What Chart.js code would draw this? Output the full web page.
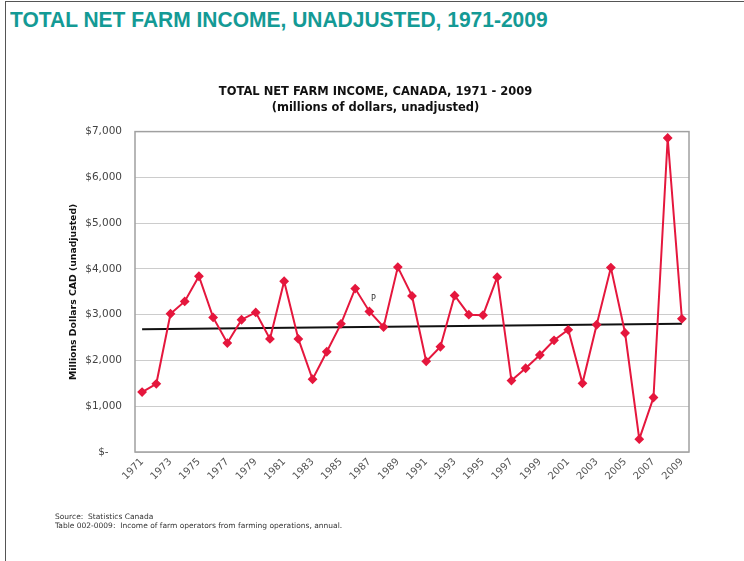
<!DOCTYPE html>
<html lang="en">
<head>
<meta charset="UTF-8">
<title>Total net farm income, unadjusted, 1971-2009</title>
<script src="https://cdn.jsdelivr.net/npm/chart.js"></script>
<style>
  body { margin: 0; background: #fff; }
  #page { position: relative; width: 744px; height: 561px; overflow: hidden; }
  #frame { position: absolute; left: 5px; top: 1px; width: 800px; height: 600px;
           border-left: 1.5px solid #555; border-top: 1.5px solid #555; }
  #heading { position: absolute; left: 10px; top: 7px; margin: 0; white-space: nowrap;
             font: bold 22px "Liberation Sans", Arial, sans-serif; color: #149a95;
             transform-origin: 0 0; }
  #chart { position: absolute; left: 0; top: 0; }
  .src { position: absolute; left: 55px; font: 7.5px "DejaVu Sans", Verdana, sans-serif; color: #333; white-space: nowrap; }
</style>
</head>
<body>
<div id="page">
  <div id="frame"></div>
  <h1 id="heading">TOTAL NET FARM INCOME, UNADJUSTED, 1971-2009</h1>
  <canvas id="chart" width="744" height="561"></canvas>
  <div class="src" style="top:512px">Source:&nbsp; Statistics Canada</div>
  <div class="src" style="top:521px">Table 002-0009:&nbsp; Income of farm operators from farming operations, annual.</div>
</div>
<script>
// years on the x axis
const years = ['1971','1972','1973','1974','1975','1976','1977','1978','1979','1980',
               '1981','1982','1983','1984','1985','1986','1987','1988','1989','1990',
               '1991','1992','1993','1994','1995','1996','1997','1998','1999','2000',
               '2001','2002','2003','2004','2005','2006','2007','2008','2009'];

// total net farm income, millions of dollars
const income = [1310, 1490, 3020, 3290, 3840, 2940, 2380, 2890, 3050, 2470,
                3730, 2470, 1590, 2190, 2800, 3570, 3070, 2730, 4040, 3410,
                1980, 2300, 3420, 3000, 2990, 3820, 1560, 1830, 2120, 2440,
                2670, 1500, 2780, 4030, 2600, 280, 1190, 6860, 2910];

// trend line, first and last year only
const trend = [2680, null, null, null, null, null, null, null, null, null,
               null, null, null, null, null, null, null, null, null, null,
               null, null, null, null, null, null, null, null, null, null,
               null, null, null, null, null, null, null, null, 2800];

const yTicks = [0, 1000, 2000, 3000, 4000, 5000, 6000, 7000];
const noteYear = '1987';   // the "P" mark
const noteText = 'P';

// squeeze page heading to the width it has in the original
const h = document.getElementById('heading');
h.style.transform = 'scaleX(' + (538 / h.offsetWidth) + ')';

const boxPlugin = {
  id: 'box',
  beforeDatasetsDraw(chart) {
    const a = chart.chartArea, ctx = chart.ctx;
    ctx.save();
    ctx.strokeStyle = '#a0a0a0';
    ctx.lineWidth = 1.5;
    ctx.strokeRect(a.left, a.top, a.right - a.left, a.bottom - a.top);
    ctx.restore();
  },
  afterDatasetsDraw(chart) {
    const i = years.indexOf(noteYear);
    const pt = chart.getDatasetMeta(0).data[i];
    const ctx = chart.ctx;
    ctx.save();
    ctx.font = '8px "DejaVu Sans", Verdana, sans-serif';
    ctx.fillStyle = '#333';
    ctx.textAlign = 'center';
    ctx.fillText(noteText, pt.x + 4, pt.y - 10);
    ctx.restore();
  }
};

new Chart(document.getElementById('chart'), {
  type: 'line',
  data: {
    labels: years,
    datasets: [{
      data: income,
      borderColor: '#e5173d',
      backgroundColor: '#e5173d',
      borderWidth: 2,
      pointStyle: 'rectRot',
      pointRadius: 3.5,
      pointHoverRadius: 3.5,
      tension: 0
    }, {
      data: trend,
      borderColor: '#111',
      borderWidth: 2,
      pointRadius: 0,
      spanGaps: true
    }]
  },
  options: {
    responsive: false,
    animation: false,
    layout: { padding: { left: 62, right: 55, top: 85, bottom: 69 } },
    plugins: {
      legend: { display: false },
      tooltip: { enabled: false },
      title: {
        display: true,
        text: 'TOTAL NET FARM INCOME, CANADA, 1971 - 2009',
        color: '#111',
        font: { family: '"DejaVu Sans", Verdana, sans-serif', size: 11.5, weight: 'bold' },
        padding: { top: 0, bottom: 2 }
      },
      subtitle: {
        display: true,
        text: '(millions of dollars, unadjusted)',
        color: '#111',
        font: { family: '"DejaVu Sans", Verdana, sans-serif', size: 11.5, weight: 'bold' },
        padding: { top: 0, bottom: 17 }
      }
    },
    scales: {
      x: {
        offset: true,
        grid: { display: false, drawTicks: false },
        border: { display: false },
        ticks: {
          autoSkip: false,
          maxRotation: 45,
          minRotation: 45,
          padding: 4,
          color: '#555',
          font: { family: '"DejaVu Sans", Verdana, sans-serif', size: 10 },
          callback: (v, i) => (i % 2 === 0 ? years[i] : '')
        },
        afterFit: s => { s.height = 40; }
      },
      y: {
        min: 0,
        max: 7000,
        afterBuildTicks: s => { s.ticks = yTicks.map(v => ({ value: v })); },
        grid: { color: '#cccccc', lineWidth: 1, drawTicks: false },
        border: { display: false },
        ticks: {
          padding: 13,
          color: '#444',
          font: { family: '"DejaVu Sans", Verdana, sans-serif', size: 10.5 },
          callback: v => (v === 0 ? '$-    ' : '$' + v.toLocaleString('en-US'))
        },
        title: {
          display: true,
          text: 'Millions Dollars CAD (unadjusted)',
          color: '#111',
          font: { family: '"DejaVu Sans", Verdana, sans-serif', size: 9.3, weight: 'bold' },
          padding: { top: 6, bottom: 0 }
        },
        afterFit: s => { s.width = 73; }
      }
    }
  },
  plugins: [boxPlugin]
});
</script>
</body>
</html>
